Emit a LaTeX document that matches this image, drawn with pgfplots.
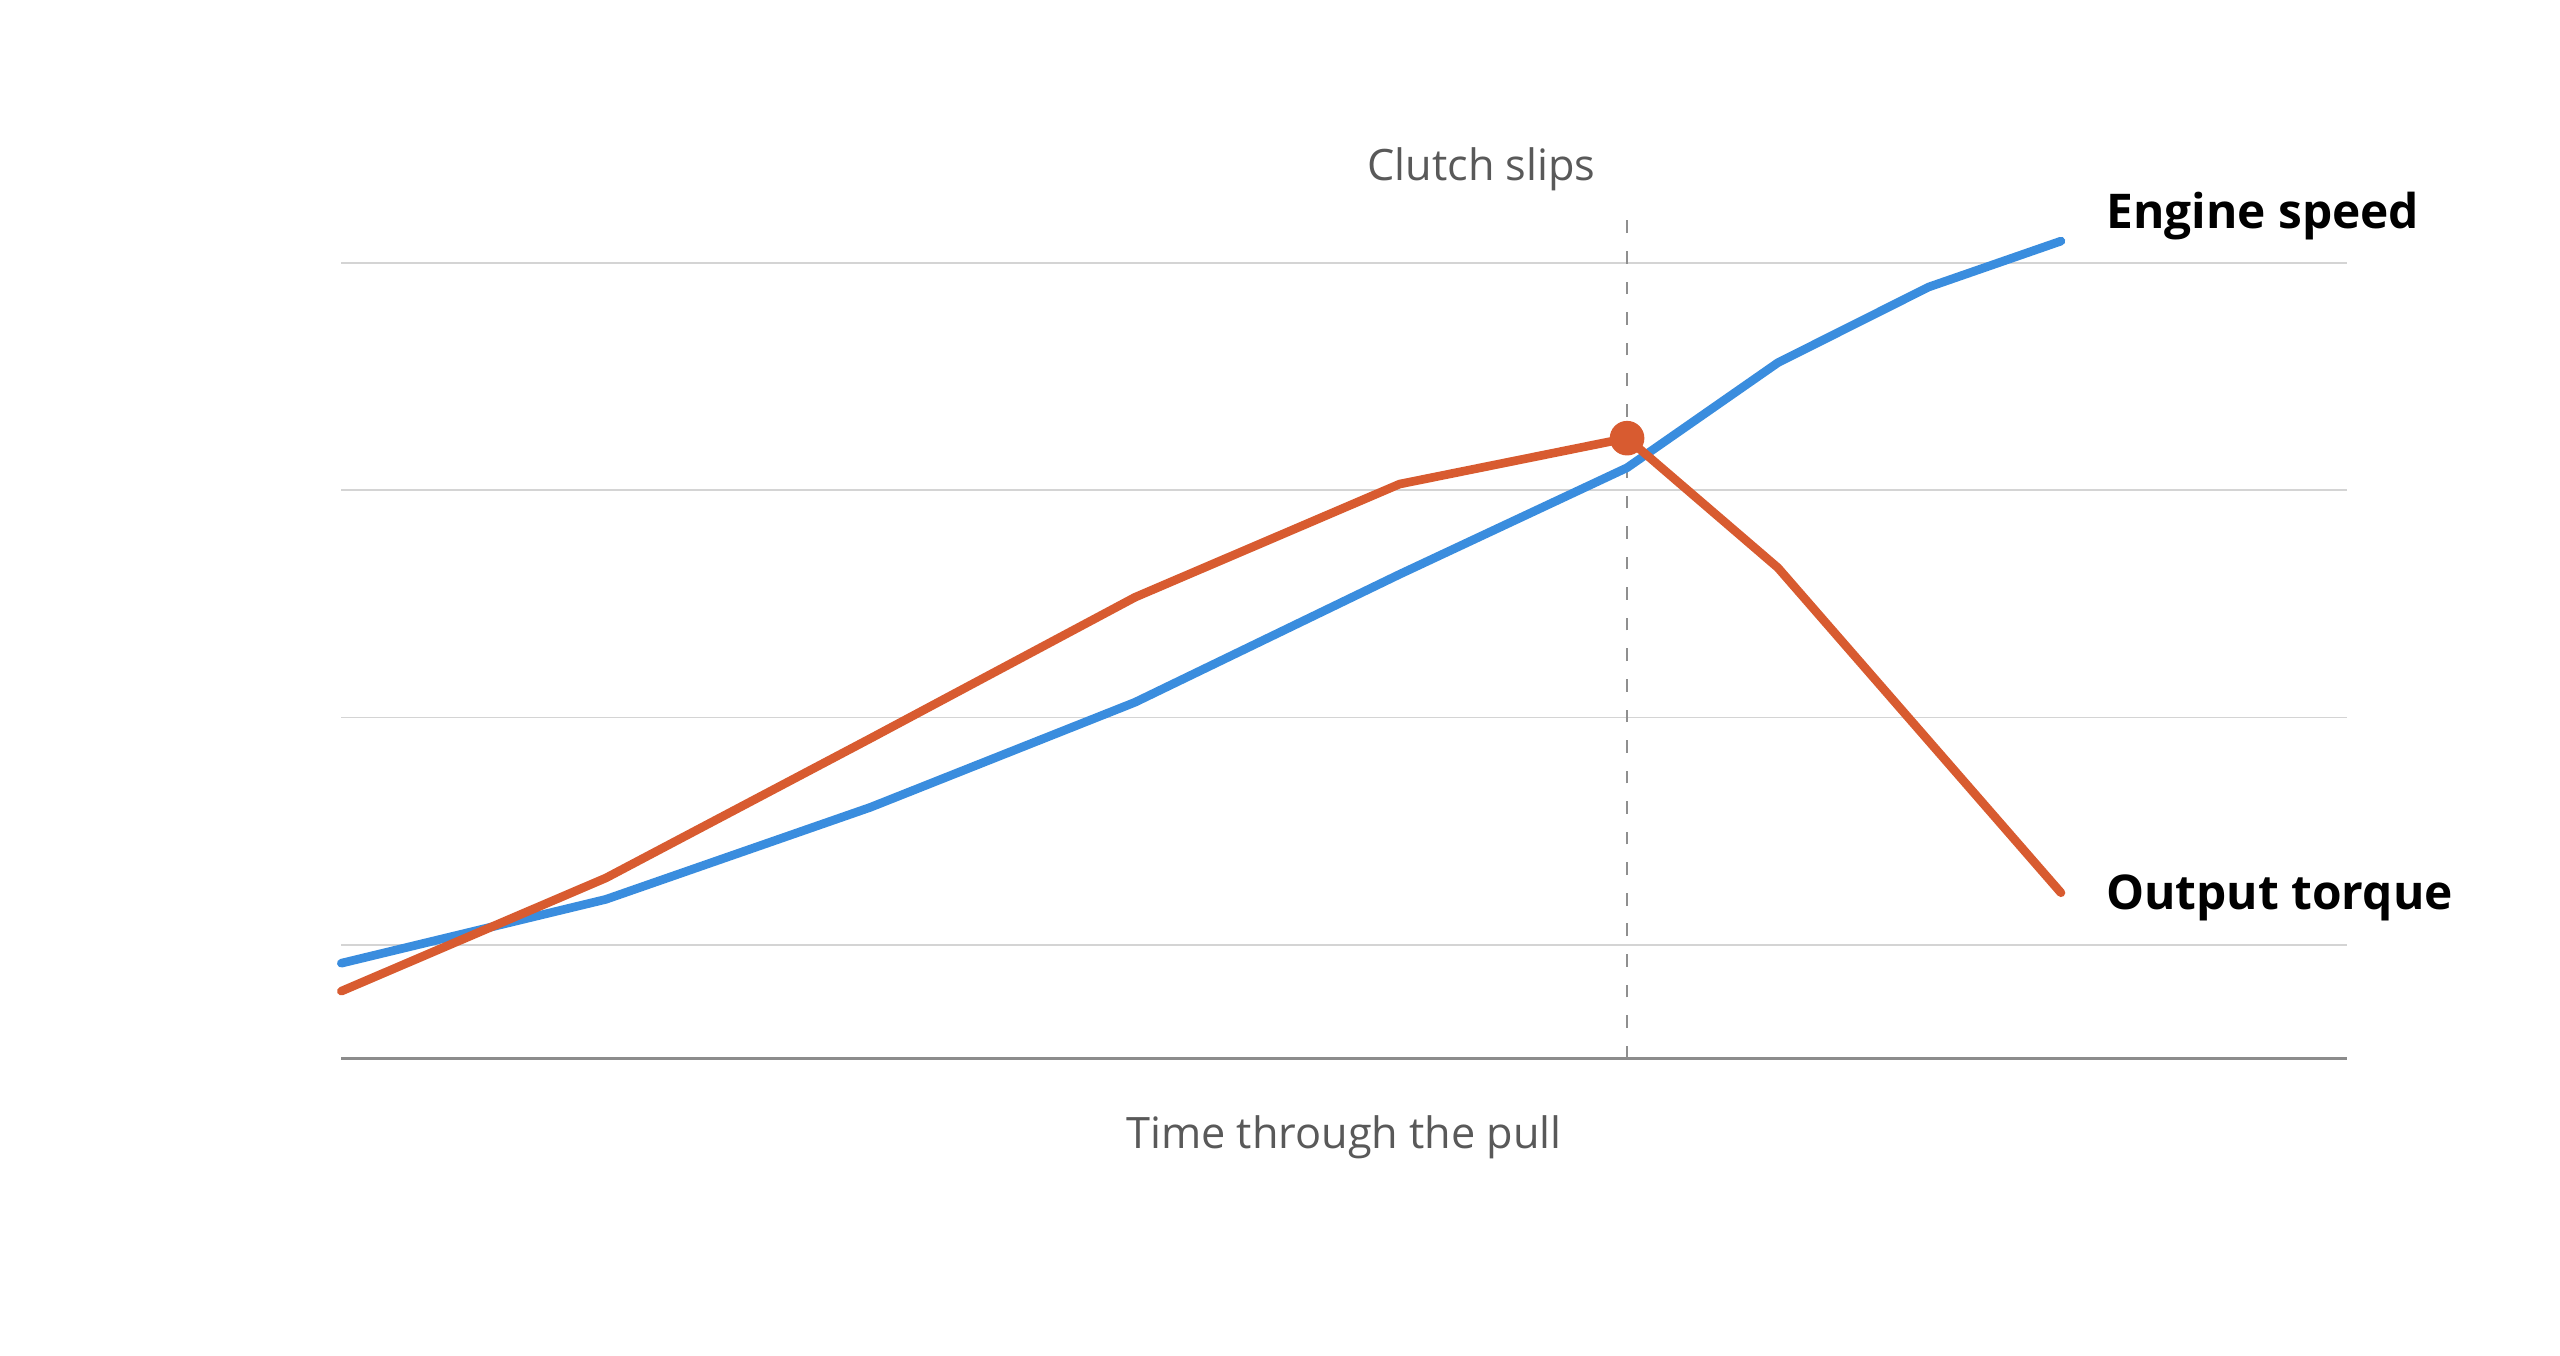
\documentclass[border=0pt]{standalone}
\usepackage{pgfplots}
\pgfplotsset{compat=1.18}
\usepackage{fontspec}
\setmainfont{Open Sans}

\definecolor{speedblue}{HTML}{3A8DDE}
\definecolor{torqueorange}{HTML}{D85B30}
\definecolor{labelgray}{HTML}{595959}
\definecolor{gridgray}{HTML}{D4D4D4}
\definecolor{basegray}{HTML}{8C8C8C}
\definecolor{dashgray}{HTML}{8F8F8F}

\begin{document}
\begin{tikzpicture}
\begin{axis}[
    at={(0,0)}, anchor=south west,
    scale only axis,
    width=24.44cm, height=10.36cm,
    xmin=0, xmax=7.58, ymin=0.5, ymax=4.24,
    axis line style={draw=none},
    xtick=\empty, ytick={1,2,3,4}, yticklabels={},
    major tick length=0pt,
    ymajorgrids,
    grid style={gridgray, line width=0.6pt},
    clip=false,
]
% baseline
\addplot[basegray, line width=1.1pt, forget plot] coordinates {(0,0.5) (7.58,0.5)};
% clutch slip marker line
\addplot[dashgray, line width=0.6pt, dash pattern=on 4.4pt off 6.2pt, forget plot]
    coordinates {(4.86,0.5) (4.86,4.24)};

% engine speed
\addplot[speedblue, line width=3pt, line cap=round, line join=round] coordinates {
    (0,0.919) (1,1.200) (2,1.605) (3,2.067) (4,2.630)
    (4.86,3.099) (5.43,3.561) (6,3.894) (6.5,4.096)
};
% output torque
\addplot[torqueorange, line width=3pt, line cap=round, line join=round] coordinates {
    (0,0.796) (1,1.294) (2,1.908) (3,2.529) (4,3.027)
    (4.86,3.229) (5.43,2.659) (6.5,1.229)
};
\addplot[only marks, mark=*, mark size=5.8pt, torqueorange] coordinates {(4.86,3.229)};

\node[labelgray, font=\fontsize{15}{18}\selectfont, anchor=base] at (axis cs:4.31,4.363) {Clutch slips};
\node[labelgray, font=\fontsize{15}{18}\selectfont, anchor=base] at (axis cs:3.79,0.103) {Time through the pull};
\node[black, font=\fontsize{16.6}{20}\selectfont\bfseries, anchor=base west, inner sep=0pt] at (axis cs:6.669,4.153) {Engine speed};
\node[black, font=\fontsize{16.6}{20}\selectfont\bfseries, anchor=base west, inner sep=0pt] at (axis cs:6.669,1.157) {Output torque};
\end{axis}
\pgfresetboundingbox
\path (-4.16cm,-3.62cm) rectangle (27.04cm,12.9cm);
\end{tikzpicture}
\end{document}
